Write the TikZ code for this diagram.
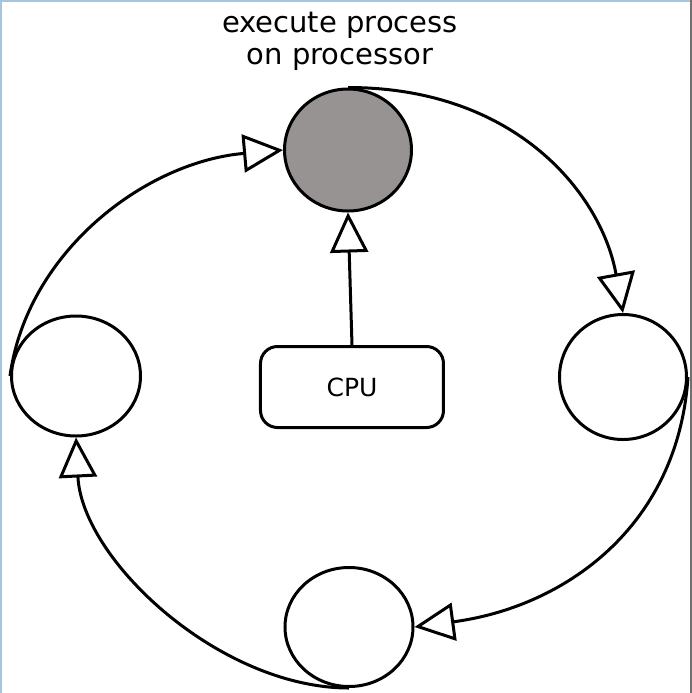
\documentclass[tikz,border=0pt]{standalone}
\usepackage{fontspec}
\setmainfont{DejaVu Sans}
\usetikzlibrary{arrows.meta,shapes.geometric}
\definecolor{procgray}{RGB}{152,147,147}
\definecolor{edgeblue}{RGB}{165,198,220}
\definecolor{edgegray}{RGB}{112,112,112}
\tikzset{
  proc/.style={draw, ellipse, line width=1.5pt, inner sep=0pt, fill=white},
  cpubox/.style={draw, rectangle, rounded corners=8.5pt, line width=1.5pt,
    minimum width=91.5pt, minimum height=40.5pt, inner sep=0pt,
    font=\fontsize{12.5pt}{15pt}\selectfont},
  titletext/.style={font=\fontsize{14.5pt}{16.5pt}\selectfont, inner sep=0pt, anchor=base},
  flow/.style={line width=1.5pt, -{Triangle[open, length=20pt, width=19pt, line width=1.5pt]}}
}
\begin{document}
\begin{tikzpicture}[x=0.5pt, y=-0.5pt]
\useasboundingbox (0,0) rectangle (692,693);
\draw[edgeblue, line width=1pt] (1,693) -- (1,1) -- (692,1);
\draw[edgegray, line width=0.6pt] (691,0) -- (691,693);

\node[titletext] (t1) at (340,32) {execute process};
\node[titletext] (t2) at (340,64) {on processor};

\node[proc, fill=procgray, minimum width=63.5pt, minimum height=61pt] (top) at (348,150) {};
\node[proc, minimum width=63.5pt, minimum height=62.5pt] (right) at (623,377) {};
\node[proc, minimum width=64.5pt, minimum height=60pt] (left) at (76,376) {};
\node[proc, minimum width=64pt, minimum height=59.5pt] (bottom) at (349,627) {};
\node[cpubox] (cpu) at (352,387) {CPU};

\draw[flow] (top.north) .. controls +(170,0) and +(-21,-117) .. (right.north);
\draw[flow] (right.east) .. controls +(-10,150) and +(150,-20) .. (bottom.east);
\draw[flow] (bottom.south) .. controls +(-130,0) and +(6,122) .. (left.south);
\draw[flow] (left.west) .. controls +(17,-124) and +(-138,12) .. (top.west);
\draw[flow] (cpu.north) -- (top.south);
\end{tikzpicture}
\end{document}
